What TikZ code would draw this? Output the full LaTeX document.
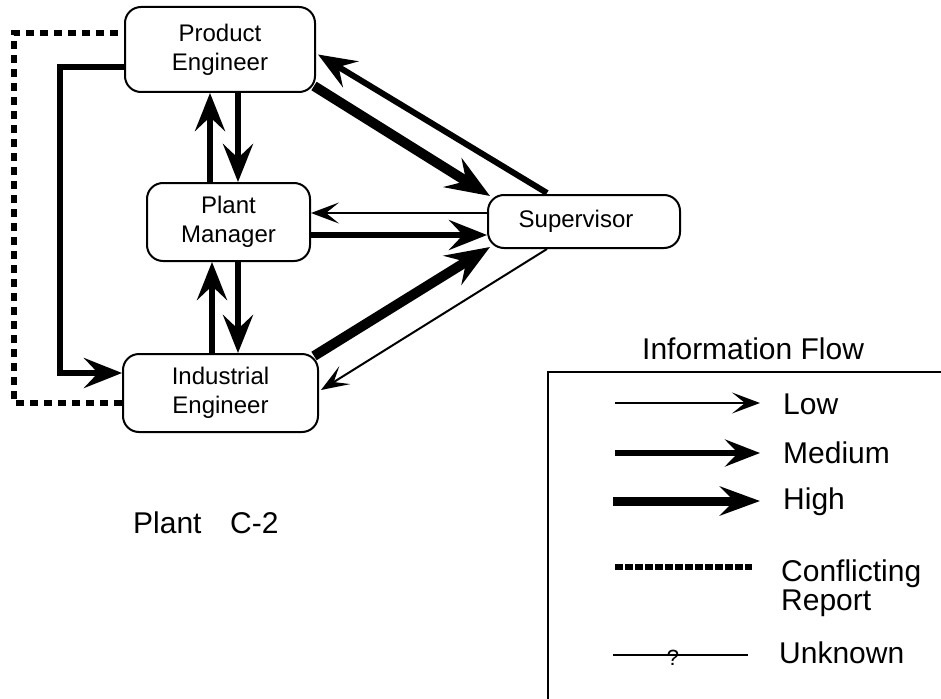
\documentclass[tikz,border=0pt]{standalone}
\usepackage{fontspec}
\setmainfont{Liberation Sans}
\usetikzlibrary{arrows.meta,calc}
\begin{document}
\begin{tikzpicture}[x=1pt,y=-1pt,
  box/.style={draw,line width=2pt,rounded corners=16pt,align=center,inner sep=0pt,font=\fontsize{24}{29}\selectfont},
  lowflow/.style={line width=2pt,-{Stealth[length=28pt,width=21pt,inset=13pt]}},
  medflow/.style={line width=6pt,-{Stealth[length=38pt,width=30pt,inset=14pt]}},
  highflow/.style={line width=10pt,-{Stealth[length=44pt,width=34pt,inset=16pt]}},
  legmed/.style={line width=6pt,-{Stealth[length=35pt,width=27pt,inset=13pt]}},
  leghigh/.style={line width=9pt,-{Stealth[length=40pt,width=29pt,inset=14pt]}},
  conflict/.style={line width=5.5pt,dash pattern=on 8pt off 6pt},
  legconflict/.style={line width=6pt,dash pattern=on 7.5pt off 2.5pt},
  lbl/.style={anchor=base west,inner sep=0pt,font=\fontsize{30}{30}\selectfont}]
\path[use as bounding box] (0,0) rectangle (941,698);
\clip (0,0) rectangle (941,698);

% nodes
\node[box,minimum width=190pt,minimum height=85pt] (PE) at (220,49.5) {Product\\Engineer};
\node[box,minimum width=163pt,minimum height=78pt] (PM) at (228.5,222) {Plant\\Manager};
\node[box,minimum width=195pt,minimum height=78pt] (IE) at (220.5,393) {Industrial\\Engineer};
\node[box,minimum width=192pt,minimum height=53pt] (SU) at (584,221.5) {Supervisor\hspace*{16pt}};

% helper coordinates
\coordinate (xa) at (210,0);
\coordinate (xb) at (238,0);
\coordinate (xc) at (212,0);
\coordinate (ya) at (0,213);
\coordinate (yb) at (0,235);
\coordinate (xL) at (60,0);
\coordinate (yL1) at (0,67);
\coordinate (yL2) at (0,373);
\coordinate (xD) at (14,0);
\coordinate (yD1) at (0,33);
\coordinate (yD2) at (0,403);

% conflicting report (dashed)
\draw[conflict] (IE.west |- yD2) -- (xD |- yD2) -- (xD |- yD1) -- (PE.west |- yD1);

% PE -> IE medium L-shaped
\draw[medflow] (PE.west |- yL1) -- (xL |- yL1) -- (xL |- yL2) -- (IE.west |- yL2);

% vertical arrows
\draw[medflow] (PM.north -| xa) -- (PE.south -| xa);
\draw[medflow] (PE.south -| xb) -- (PM.north -| xb);
\draw[medflow] (IE.north -| xc) -- (PM.south -| xc);
\draw[medflow] (PM.south -| xb) -- (IE.north -| xb);

% horizontal arrows
\draw[lowflow] (SU.west |- ya) -- (PM.east |- ya);
\draw[medflow] (PM.east |- yb) -- (SU.west |- yb);

% diagonal arrows
\draw[highflow] ($(PE.south east)+(-2,-7)$) -- ($(SU.north west)+(3,2)$);
\draw[medflow] ($(SU.north)+(-37,-1)$) -- ($(PE.east)+(2,5)$);
\draw[highflow] ($(IE.north east)+(-5,3)$) -- ($(SU.south west)+(3,-2)$);
\draw[lowflow] ($(SU.south)+(-37,0)$) -- ($(IE.east)+(2,-3)$);

% caption
\node[lbl] (plant) at (133,533) {Plant};
\node[lbl] (c2) at (230,533) {C-2};

% legend
\node[lbl] (title) at (642,359) {Information Flow};
\coordinate (bx1) at (548,372);
\coordinate (bx2) at (960,372);
\coordinate (bx3) at (548,720);
\draw[line width=2pt] (bx2) -- (bx1) -- (bx3);

\coordinate (l1a) at (615,403); \coordinate (l1b) at (760,403);
\draw[lowflow] (l1a) -- (l1b);
\node[lbl] (low) at (783,414) {Low};

\coordinate (l2a) at (615,453); \coordinate (l2b) at (760,453);
\draw[legmed] (l2a) -- (l2b);
\node[lbl] (med) at (783,463) {Medium};

\coordinate (l3a) at (613,501); \coordinate (l3b) at (760,501);
\draw[leghigh] (l3a) -- (l3b);
\node[lbl] (high) at (783,509) {High};

\coordinate (l4a) at (615,567); \coordinate (l4b) at (752,567);
\draw[legconflict] (l4a) -- (l4b);
\node[lbl,align=left,anchor=north west,font=\fontsize{30}{29}\selectfont] (conf) at (781,560) {Conflicting\\Report};

\coordinate (l5a) at (613,655); \coordinate (l5b) at (748,655);
\draw[line width=2pt] (l5a) -- (l5b);
\node[inner sep=0pt,font=\fontsize{22}{22}\selectfont] (q) at (673,658) {?};
\node[lbl] (unk) at (779,663) {Unknown};
\end{tikzpicture}
\end{document}
